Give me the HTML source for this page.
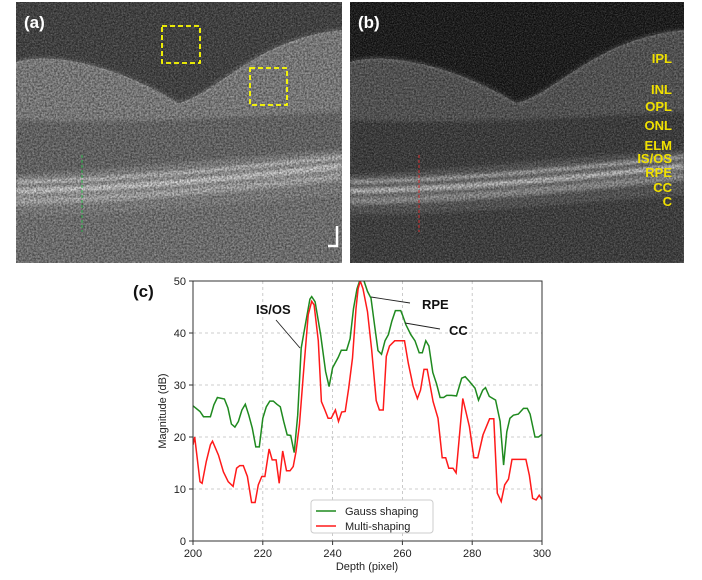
<!DOCTYPE html>
<html><head><meta charset="utf-8"><style>
html,body{margin:0;padding:0;background:#fff;}
body{width:702px;height:580px;overflow:hidden;font-family:"Liberation Sans",Arial,sans-serif;}
svg{display:block;}
</style></head><body>
<svg id="root" width="702" height="580" viewBox="0 0 702 580" xmlns="http://www.w3.org/2000/svg">
<defs>
<filter id="speck" x="0" y="0" width="100%" height="100%">
<feTurbulence type="fractalNoise" baseFrequency="0.9" numOctaves="2" seed="3"/>
<feColorMatrix type="matrix" values="0 0 0 0 1  0 0 0 0 1  0 0 0 0 1  0 0 0 -1.6 1.2"/>
</filter>
<filter id="speck2" x="0" y="0" width="100%" height="100%">
<feTurbulence type="fractalNoise" baseFrequency="0.55" numOctaves="2" seed="7"/>
<feColorMatrix type="matrix" values="0 0 0 0 0  0 0 0 0 0  0 0 0 0 0  0 0 0 -1.8 1.3"/>
</filter>
<filter id="soft"><feGaussianBlur stdDeviation="1.6"/></filter>
<clipPath id="clipA"><rect x="16" y="2" width="326" height="261"/></clipPath>
<clipPath id="clipB"><rect x="350" y="2" width="334" height="261"/></clipPath>
<clipPath id="plotClip"><rect x="193" y="281" width="349" height="260"/></clipPath>
</defs>
<g id="panels"></g>
<g id="chart"></g>
</svg>
<script>
// ---------- Chart data ----------
const gaussDepth = [200,202,203,205,206,207,209,210,211,212,213,214,215,216,217,218,219,220,221,222,223,224,225,226,227,228,229,230,231,232,233.5,234,235,236.6,238,239,240,241.6,242.5,244,245,246,247,248,249,250,251,252,253,254,255,256,257,258,259.5,260,261,262.4,263.6,264.8,265.7,266.7,267.6,268.7,269.8,270.8,271.8,272.7,274,275.5,277,278,279.2,280.8,281.8,283,283.8,284.9,286.7,288,289,289.9,290.8,291.8,293.2,294.7,295.8,296.6,298,299,300];
const gaussValues = [26.0,24.9,23.9,23.9,26.2,27.6,27.3,25.6,22.5,21.9,23.0,25.2,26.3,24.2,21.7,18.1,18.1,23.6,25.8,26.9,26.9,26.3,25.8,23.0,20.4,20.3,17.0,24.2,37.1,40.9,46.5,47.0,46.0,39.6,32.6,29.7,33.3,35.3,36.7,36.7,38.9,44.7,48.5,50.5,50.0,48.0,46.7,41.6,36.6,35.9,38.5,39.7,42.3,44.3,44.3,43.5,41.6,39.7,38.5,36.2,36.2,38.5,37.5,32.4,30.2,27.6,27.6,28.0,28.0,27.9,31.3,31.6,30.7,29.4,27.1,29.0,29.5,27.8,27.1,23.0,14.6,21.0,23.6,24.2,24.4,25.5,25.5,24.4,20.0,20.0,20.5];
const multiDepth = [200,200.5,202,202.6,203.8,205,205.6,207.3,208.7,210.1,211.5,212.5,213.4,214.4,215.6,216.8,217.8,218.7,219.7,220.6,221.8,222.7,223.8,224.7,225.7,226.8,227.8,228.7,229.5,230.5,231.6,233,234,234.7,235.9,236.8,237.8,238.7,239.6,240.8,241.7,242.6,243.6,244.6,245.7,246.7,247.3,247.9,248.7,250,251.2,252.5,253.4,254.5,255.4,256.3,257.8,260.6,261.7,263.1,264.3,265.2,266.2,267.1,268.8,270.2,271.4,272.4,273.3,274.5,275.4,277.3,279.2,280.5,281.6,283.1,285,286.2,287.2,288.3,289.3,290.4,291.4,295.4,296.4,297.3,298.3,299.2,300];
const multiValues = [18.5,20.0,11.4,11.1,15.3,18.5,19.2,16.5,13.3,11.4,10.5,14.0,14.5,14.5,12.4,7.4,7.4,10.8,12.4,12.4,17.7,15.6,15.6,11.1,17.3,13.5,13.5,14.3,17.2,22.3,31.9,43.5,46.1,45.4,38.5,26.8,25.2,23.6,23.6,25.2,23.0,24.8,24.9,29.4,35.2,44.7,48.5,50.0,48.5,44.1,36.7,27.0,25.2,25.2,35.5,37.5,38.5,38.5,34.2,29.7,27.4,29.0,33.0,33.0,26.8,23.6,16.0,16.0,14.0,14.0,13.1,27.4,22.0,16.0,16.0,20.4,23.5,23.5,9.2,7.6,10.8,11.9,15.7,15.7,12.6,8.2,7.9,8.8,8.0];
const xTicks = [200,220,240,260,280,300];
const yTicks = [0,10,20,30,40,50];
const seriesNames = ["Gauss shaping","Multi-shaping"];

const NS = "http://www.w3.org/2000/svg";
function mk(tag, attrs, parent){const e=document.createElementNS(NS,tag);for(const k in attrs)e.setAttribute(k,attrs[k]);parent.appendChild(e);return e;}

// ---------- OCT panels ----------
const panels = document.getElementById('panels');
function drawPanel(x0, w, clip, vitreous, tissue, dark, bright, offset, label){
  const g = mk('g',{'clip-path':'url(#'+clip+')'},panels);
  
  
  mk('rect',{x:x0,y:2,width:w,height:261,fill:vitreous},g);
  const X=v=>x0+v*w/326;
  mk('path',{d:`M${X(0)},62 C${X(40)},50 ${X(110)},70 ${X(162)},103 C${X(200)},95 ${X(240)},38 ${X(326)},30 L${X(326)},263 L${X(0)},263 Z`,fill:tissue},g);
  mk('path',{d:`M${X(0)},62 C${X(40)},50 ${X(110)},70 ${X(162)},103 C${X(200)},95 ${X(240)},38 ${X(326)},30`,fill:'none',stroke:bright,'stroke-width':3,opacity:0.25,filter:'url(#soft)'},g);
  const lay=mk('g',{filter:'url(#soft)'},g);
  mk('path',{d:`M${X(0)},120 C${X(100)},125 ${X(200)},118 ${X(326)},112 L${X(326)},150 C${X(200)},158 ${X(100)},170 ${X(0)},175 Z`,fill:dark,opacity:0.7},lay);
  const band=(dy,sw,col,op)=>mk('path',{d:`M${X(0)},${183+dy} C${X(100)},${181+dy} ${X(200)},${172+dy} ${X(326)},${158+dy}`,stroke:col,'stroke-width':sw,fill:'none',opacity:op},lay);
  band(-1,4,bright,0.8);
  band(8,6,bright,0.9);
  band(18,8,bright,0.5);
  mk('path',{d:`M${X(0)},215 C${X(100)},215 ${X(200)},205 ${X(326)},195 L${X(326)},263 L${X(0)},263 Z`,fill:offset,opacity:0.6},lay);
  mk('rect',{x:x0,y:2,width:w,height:261,filter:'url(#speck)',opacity:0.28},g);
  mk('rect',{x:x0,y:2,width:w,height:261,filter:'url(#speck2)',opacity:0.5},g);
}
drawPanel(16,326,'clipA','#3c3c3c','#858585','#5c5c5c','#e6e6e6','#6e6e6e','a');
drawPanel(350,334,'clipB','#0c0c0c','#525252','#2a2a2a','#d6d6d6','#262626','b');

function txt(x,y,s,attrs,parent,name){const t=mk('text',Object.assign({x:x,y:y},attrs),parent);t.textContent=s;return t;}
txt(24,28,'(a)',{fill:'#fff','font-size':17,'font-weight':'bold'},panels,'panel-a-label');
txt(358,28,'(b)',{fill:'#fff','font-size':17,'font-weight':'bold'},panels,'panel-b-label');
const box1=mk('rect',{x:162,y:26,width:38,height:37,fill:'none',stroke:'#ffff00','stroke-width':1.8,'stroke-dasharray':'5,3'},panels);


const box2=mk('rect',{x:250,y:68,width:37,height:37,fill:'none',stroke:'#ffff00','stroke-width':1.8,'stroke-dasharray':'5,3'},panels);


const gl=mk('line',{x1:82,y1:155,x2:82,y2:232,stroke:'#2db34a','stroke-width':1,'stroke-dasharray':'3,2'},panels);


const rl=mk('line',{x1:419,y1:155,x2:419,y2:232,stroke:'#d03030','stroke-width':1,'stroke-dasharray':'3,2'},panels);


const sb=mk('path',{d:'M337,226 L337,246 L328,246',stroke:'#fff','stroke-width':2.5,fill:'none'},panels);


const layers=[['IPL',63],['INL',94],['OPL',111],['ONL',130],['ELM',150],['IS/OS',163],['RPE',177],['CC',192],['C',206]];
layers.forEach(l=>txt(672,l[1],l[0],{fill:'#f0e000','font-size':13,'font-weight':'bold','text-anchor':'end'},panels,'layer-label-'+l[0].toLowerCase().replace('/','-')));

// ---------- Chart ----------
const chart=document.getElementById('chart');
const L=193,R=542,T=281,B=541;
const xs=v=>L+(v-200)/100*(R-L);
const ys=v=>B-v/50*(B-T);
yTicks.forEach(v=>{
  if(v>0&&v<50){const gl=mk('line',{x1:L,x2:R,y1:ys(v),y2:ys(v),stroke:'#bdbdbd','stroke-width':0.8,'stroke-dasharray':'3,3'},chart);
  
  }
  const tk=mk('line',{x1:L-4,x2:L,y1:ys(v),y2:ys(v),stroke:'#333','stroke-width':1},chart);
  
  
  txt(L-7,ys(v)+4,String(v),{'font-size':11,'text-anchor':'end',fill:'#222'},chart,'y-tick-label');
});
xTicks.forEach(v=>{
  if(v>200&&v<300){const gl=mk('line',{y1:T,y2:B,x1:xs(v),x2:xs(v),stroke:'#bdbdbd','stroke-width':0.8,'stroke-dasharray':'3,3'},chart);
  
  }
  const tk=mk('line',{y1:B,y2:B+4,x1:xs(v),x2:xs(v),stroke:'#333','stroke-width':1},chart);
  
  
  txt(xs(v),B+16,String(v),{'font-size':11,'text-anchor':'middle',fill:'#222'},chart,'x-tick-label');
});
function series(xa,ya,col,name){
  let d='';xa.forEach((x,i)=>{d+=(i?'L':'M')+xs(x).toFixed(1)+','+ys(ya[i]).toFixed(1);});
  const p=mk('path',{d:d,fill:'none',stroke:col,'stroke-width':1.5,'clip-path':'url(#plotClip)'},chart);
  
  
}
series(gaussDepth,gaussValues,'#1f8a1f','gauss-shaping-line');
series(multiDepth,multiValues,'#ff1a1a','multi-shaping-line');
const frame=mk('rect',{x:L,y:T,width:R-L,height:B-T,fill:'none',stroke:'#333','stroke-width':1},chart);


[[300,348,276,320,'isos'],[371,297,410,303,'rpe'],[405,323,440,329,'cc']].forEach(a=>{
  const ln=mk('line',{x1:a[0],y1:a[1],x2:a[2],y2:a[3],stroke:'#222','stroke-width':0.9},chart);
  
  
});
txt(256,314,'IS/OS',{'font-size':13,'font-weight':'bold',fill:'#111'},chart,'annotation-isos');
txt(422,309,'RPE',{'font-size':13,'font-weight':'bold',fill:'#111'},chart,'annotation-rpe');
txt(449,335,'CC',{'font-size':13,'font-weight':'bold',fill:'#111'},chart,'annotation-cc');
const lg=mk('g',{},chart);


mk('rect',{x:311,y:500,width:122,height:33,rx:3,fill:'#fff',stroke:'#ccc','stroke-width':1},lg);
[['#1f8a1f',511],['#ff1a1a',526]].forEach((c,i)=>{
  const ln=mk('line',{x1:316,x2:336,y1:c[1],y2:c[1],stroke:c[0],'stroke-width':1.5},lg);
  
  
  txt(345,c[1]+4,seriesNames[i],{'font-size':11,fill:'#222'},lg,'legend-entry');
});
txt(133,297,'(c)',{'font-size':17,'font-weight':'bold',fill:'#111'},chart,'panel-c-label');
txt(0,0,'Magnitude (dB)',{'font-size':11,'text-anchor':'middle',fill:'#222',transform:'translate(166,411) rotate(-90)'},chart,'y-axis-title');
txt(367,570,'Depth (pixel)',{'font-size':11,'text-anchor':'middle',fill:'#222'},chart,'x-axis-title');
</script>
</body></html>
